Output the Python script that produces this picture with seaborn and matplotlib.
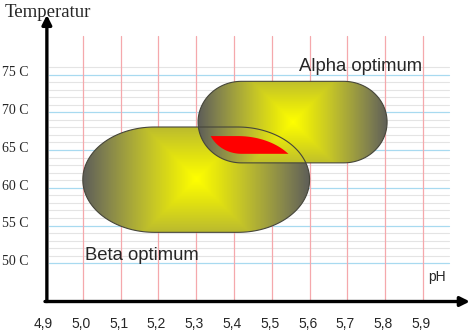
import numpy as np
import matplotlib
matplotlib.use("Agg")
import matplotlib.pyplot as plt
from matplotlib.path import Path
from matplotlib.patches import PathPatch
import seaborn as sns

# Axis ticks
ph_ticks = [4.9, 5.0, 5.1, 5.2, 5.3, 5.4, 5.5, 5.6, 5.7, 5.8, 5.9]
ph_labels = ["4,9", "5,0", "5,1", "5,2", "5,3", "5,4", "5,5", "5,6", "5,7", "5,8", "5,9"]
temp_ticks = [50, 55, 60, 65, 70, 75]
temp_labels = ["50 C", "55 C", "60 C", "65 C", "70 C", "75 C"]
temp_minor = [t for t in range(51, 77) if t % 5 != 0]

# Optimum regions: pH range, temperature range, cap width (pH)
beta_ph = [5.0, 5.6]
beta_temp = [54.1, 68.05]
beta_cap = 0.19
alpha_ph = [5.305, 5.805]
alpha_temp = [63.3, 74.1]
alpha_cap = 0.115
# Common optimum: the cores of both regions overlapping
core_inset_ph = 0.024
core_inset_temp = 1.2

sns.set_style("white")
plt.rcParams["font.family"] = ["Liberation Sans", "DejaVu Sans"]

W, H, DPI = 471, 333, 100
fig = plt.figure(figsize=(W / DPI, H / DPI), dpi=DPI)
ax = fig.add_axes([0, 0, 1, 1])
xlim = (4.781, 6.027)
ylim = (40.77, 84.87)
ax.set_xlim(*xlim)
ax.set_ylim(*ylim)
ax.axis("off")
px_per_ph = W / (xlim[1] - xlim[0])
px_per_deg = H / (ylim[1] - ylim[0])

# Grid
for t in temp_minor:
    ax.plot([4.91, 5.97], [t, t], color="#e4e4e4", lw=0.8, zorder=1)
for t in temp_ticks:
    ax.plot([4.91, 5.97], [t, t], color="#a8daf0", lw=0.9, zorder=1.1)
for p in ph_ticks[1:]:
    ax.plot([p, p], [45.0, 80.1], color="#f5a8ac", lw=0.9, zorder=1.2)


def stadium(x0, x1, y0, y1, rx, n=80):
    ry = (y1 - y0) / 2.0
    cy = (y0 + y1) / 2.0
    a_r = np.linspace(np.pi / 2, -np.pi / 2, n)
    a_l = np.linspace(-np.pi / 2, -3 * np.pi / 2, n)
    right = np.column_stack([x1 - rx + rx * np.cos(a_r), cy + ry * np.sin(a_r)])
    left = np.column_stack([x0 + rx + rx * np.cos(a_l), cy + ry * np.sin(a_l)])
    verts = np.vstack([right, left, right[:1]])
    return Path(verts, closed=True)


shade = sns.blend_palette(
    ["#ffff00", "#e2e210", "#c4c428", "#a4a43c", "#82824e", "#5e5e58"],
    n_colors=256, as_cmap=True)


def shaded_region(ph, temp, cap, z):
    path = stadium(ph[0], ph[1], temp[0], temp[1], cap)
    patch = PathPatch(path, facecolor="none", edgecolor="none",
                      transform=ax.transData)
    ax.add_patch(patch)
    cx, cy = np.mean(ph), np.mean(temp)
    half_w = (ph[1] - ph[0]) / 2 * px_per_ph
    xs = np.linspace(ph[0], ph[1], 300)
    ys = np.linspace(temp[0], temp[1], 150)
    gx, gy = np.meshgrid(xs, ys)
    dist = np.maximum(np.abs(gx - cx) * px_per_ph,
                      np.abs(gy - cy) * px_per_deg) / half_w
    im = ax.imshow(dist, cmap=shade, vmin=0, vmax=1, origin="lower",
                   extent=[ph[0], ph[1], temp[0], temp[1]],
                   interpolation="bilinear", aspect="auto", zorder=z)
    im.set_clip_path(patch)
    return path


beta_path = shaded_region(beta_ph, beta_temp, beta_cap, 2)
alpha_path = shaded_region(alpha_ph, alpha_temp, alpha_cap, 3)
for path in (beta_path, alpha_path):
    ax.add_patch(PathPatch(path, facecolor="none", edgecolor="#46463a",
                           lw=0.8, zorder=4))

# Common optimum in red
core_beta = stadium(beta_ph[0] + core_inset_ph, beta_ph[1] - core_inset_ph,
                    beta_temp[0] + core_inset_temp, beta_temp[1] - core_inset_temp,
                    beta_cap - core_inset_ph)
core_alpha = stadium(alpha_ph[0] + core_inset_ph, alpha_ph[1] - core_inset_ph,
                     alpha_temp[0] + core_inset_temp, alpha_temp[1] - core_inset_temp,
                     alpha_cap - core_inset_ph)
red = PathPatch(core_beta, facecolor="#ff0000", edgecolor="none", zorder=5)
ax.add_patch(red)
clip = PathPatch(core_alpha, transform=ax.transData, facecolor="none")
red.set_clip_path(clip)

# Axes with arrows
ax.annotate("", xy=(4.905, 82.9), xytext=(4.905, 44.94),
            arrowprops=dict(arrowstyle="-|>", lw=2.4, color="black",
                            mutation_scale=14, shrinkA=0, shrinkB=0), zorder=6)
ax.annotate("", xy=(6.024, 44.94), xytext=(4.9, 44.94),
            arrowprops=dict(arrowstyle="-|>", lw=2.4, color="black",
                            mutation_scale=14, shrinkA=0, shrinkB=0), zorder=6)

# Labels
serif = ["Liberation Serif", "DejaVu Serif"]
ax.text(4.794, 82.6, "Temperatur", family=serif, fontsize=13.5,
        ha="left", va="baseline")
for v, lab in zip(temp_ticks, temp_labels):
    ax.text(4.786, v - 0.25, lab, family=serif, fontsize=10,
            ha="left", va="baseline")
for v, lab in zip(ph_ticks, ph_labels):
    ax.text(v - 0.005, 41.39, lab, fontsize=10, ha="center", va="baseline")
ax.text(5.913, 47.7, "pH", fontsize=10, ha="left", va="baseline")
ax.text(5.572, 75.5, "Alpha optimum", fontsize=13.3, ha="left", va="baseline",
        zorder=7)
ax.text(5.006, 50.44, "Beta optimum", fontsize=13.3, ha="left", va="baseline",
        zorder=7)

fig.savefig("out.png", dpi=DPI)
